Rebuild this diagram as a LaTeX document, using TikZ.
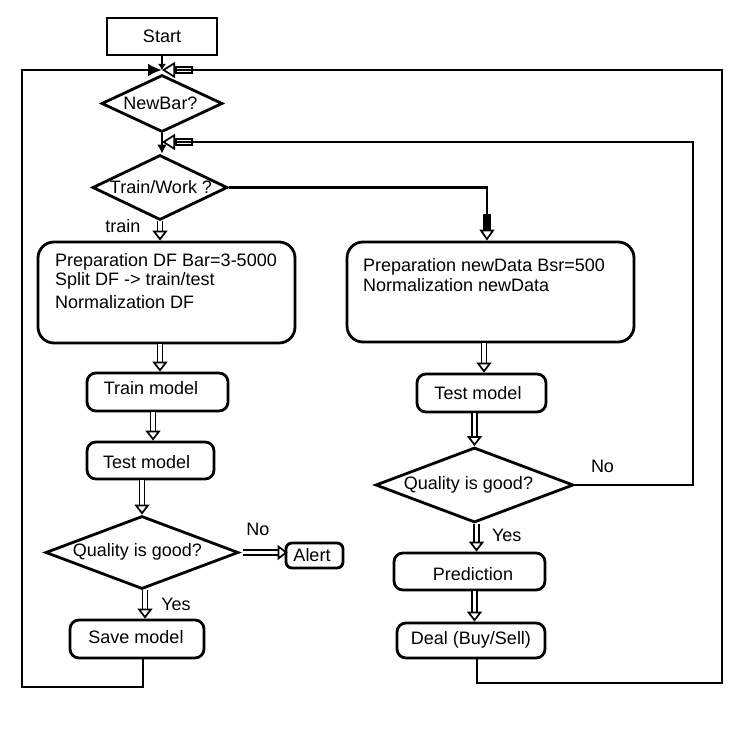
\documentclass[tikz,border=0pt]{standalone}
\usepackage{fontspec}
\setmainfont{Liberation Sans}
\usetikzlibrary{shapes.geometric,arrows.meta,calc}
\begin{document}
\begin{tikzpicture}[x=1pt,y=-1pt,
  lw/.style={line width=2.8pt},
  txt/.style={font=\fontsize{18}{20}\selectfont, inner sep=0pt},
  box/.style={draw, lw, rectangle, rounded corners=9pt},
  bigbox/.style={draw, lw, rectangle, rounded corners=16pt},
  dia/.style={draw, lw, diamond, inner sep=0pt},
  dbl/.style={line width=1.6pt, double=white, double distance=3.4pt,
    -{Triangle[open, length=10pt, width=15pt, line width=1.7pt]}},
  openhead/.style={lw, -{Rectangle[open, length=18pt, width=8pt, line width=1.7pt, sep=0pt]Triangle[open, length=13pt, width=16pt, line width=1.7pt]}},
  filledhead/.style={lw, -{Latex[length=14pt, width=13pt]}},
  lab/.style={txt}
]
\useasboundingbox (0,0) rectangle (750,738);
\fill[white] (0,0) rectangle (750,738);

% nodes
\node[draw, lw, minimum width=110pt, minimum height=37pt, txt] (start) at (162,36.5) {Start};
\node[dia, minimum width=121pt, minimum height=57pt] (newbar) at (162,103.5) {};
\node[txt] (newbart) at (160.5,103) {NewBar?};
\coordinate (top) at (newbar.north |- 0,70);
\node[dia, minimum width=135pt, minimum height=65pt] (tw) at (160,187.5) {};
\node[txt] (twt) at (161,187) {Train/Work ?};
\coordinate (mid) at (newbar.south |- 0,142);
\node[lab] (trainlbl) at (123,226) {train};

\node[bigbox, minimum width=257pt, minimum height=101pt] (lbox) at (166.5,292.5) {};
\node[txt, align=left, anchor=north west] (lboxt) at (55,253.5)
  {Preparation DF Bar=3-5000\\[-1pt]Split DF -> train/test\\[3pt]Normalization DF};
\node[bigbox, minimum width=287pt, minimum height=100pt] (rbox) at (490.5,292) {};
\node[txt, align=left, anchor=north west] (rboxt) at (363,258)
  {Preparation newData Bsr=500\\Normalization newData};

\node[box, minimum width=141pt, minimum height=38pt] (trainm) at (157.5,392) {};
\node[txt] (trainmt) at (151,388) {Train model};
\node[box, minimum width=127pt, minimum height=37pt] (testl) at (150.5,460.5) {};
\node[txt] (testlt) at (146.7,462) {Test model};
\node[dia, minimum width=193pt, minimum height=73pt] (ql) at (142,552.5) {};
\node[txt] (qlt) at (137.5,552) {Quality is good?};
\node[lab] (nol) at (258,529) {No};
\node[box, rounded corners=6pt, minimum width=57pt, minimum height=25pt] (alert) at (314.5,555.5) {};
\node[txt] (alertt) at (312,555) {Alert};
\node[lab] (yesl) at (176,604) {Yes};
\node[box, minimum width=134pt, minimum height=38pt] (save) at (137,639) {};
\node[txt] (savet) at (136,637) {Save model};

\node[box, minimum width=129pt, minimum height=38pt] (testr) at (481.5,393) {};
\node[txt] (testrt) at (478,393) {Test model};
\node[dia, minimum width=198pt, minimum height=75pt] (qr) at (474.5,485) {};
\node[txt] (qrt) at (468.5,485) {Quality is good?};
\node[lab] (nor) at (602.5,466) {No};
\node[lab] (yesr) at (506.7,535.6) {Yes};
\node[box, minimum width=151pt, minimum height=37pt] (pred) at (469.5,571.5) {};
\node[txt] (predt) at (473,574) {Prediction};
\node[box, minimum width=148pt, minimum height=35pt] (deal) at (471,640.5) {};
\node[txt] (dealt) at (471,640) {Deal (Buy/Sell)};

% connectors
\draw[lw, -{Latex[length=6pt, width=8pt]}] (start.south) -- (top);
\draw[filledhead] ([xshift=6pt]save.south) |- (22,687) |- (top);
\draw[openhead] ([xshift=6pt]deal.south) |- (722,683) |- (top);
\draw[lw, -{Latex[length=9pt, width=10pt]}] (newbar.south) -- (newbar.south |- tw.north);
\draw[openhead] (qr.east) -- ++(118,0) |- (mid);
\draw[lw, -{Rectangle[length=16pt, width=8pt]Triangle[open, length=11pt, width=15pt, line width=1.7pt]}] (tw.east) -| ([xshift=-3.5pt]rbox.north);

\draw[dbl] (tw.south) -- (tw.south |- lbox.north);
\draw[dbl] ([xshift=2.5pt]trainm.north |- lbox.south) -- ([xshift=2.5pt]trainm.north);
\draw[dbl] ([xshift=2.5pt]testl.north |- trainm.south) -- ([xshift=2.5pt]testl.north);
\draw[dbl] (ql.north |- testl.south) -- (ql.north);
\draw[dbl] ([xshift=3pt]ql.south) -- ([xshift=3pt]ql.south |- save.north);
\draw[dbl] ([xshift=3pt]ql.east) -- ([xshift=3pt]ql.east -| alert.west);
\draw[dbl] ([xshift=2.5pt]testr.north |- rbox.south) -- ([xshift=2.5pt]testr.north);
\draw[dbl] (qr.north |- testr.south) -- (qr.north);
\draw[dbl] ([xshift=2pt]qr.south) -- ([xshift=2pt]qr.south |- pred.north);
\draw[dbl] (qr.south |- pred.south) -- (qr.south |- deal.north);
\end{tikzpicture}
\end{document}
